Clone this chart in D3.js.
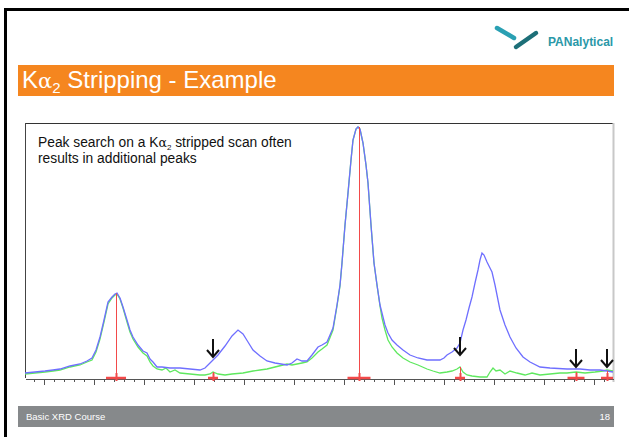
<!DOCTYPE html>
<html lang="en">
<head>
  <meta charset="UTF-8">
  <script type="text/javascript" src="https://cdn.jsdelivr.net/npm/d3@7/dist/d3.min.js"></script>
  <title>Ka2 Stripping - Example</title>
  <style>
    body { margin: 0; background: #fff; }
    svg { display: block; background-color: #fff; font-family: "Liberation Sans", Arial, sans-serif; }
    .axis path, .axis line { fill: none; stroke: #555; shape-rendering: crispEdges; }
    .scan { fill: none; stroke: #6f6fff; stroke-width: 1.3; }
    .stripped { fill: none; stroke: #5fe85f; stroke-width: 1.3; }
    .peak { stroke: #f24a4a; }
    .arrow { fill: none; stroke: #111; stroke-width: 2; }
  </style>
</head>
<body>
<div id="chart"></div>

<script>
  // original scan (with K-alpha2), blue
  var scanTheta = [19.62, 19.82, 20.02, 20.18, 20.32, 20.52, 20.72, 20.86, 20.96, 21.04, 21.12, 21.20, 21.28, 21.36, 21.42, 21.46,
    21.52, 21.58, 21.66, 21.72, 21.78, 21.88, 21.98, 22.06, 22.12, 22.18, 22.26, 22.36, 22.52, 22.72, 22.92, 23.12,
    23.22, 23.32, 23.38, 23.48, 23.62, 23.76, 23.88, 23.98, 24.08, 24.18, 24.32, 24.46, 24.62, 24.86, 24.96, 25.06,
    25.16, 25.26, 25.36, 25.48, 25.56, 25.66, 25.78, 25.86, 25.92, 25.96, 26.02, 26.08, 26.14, 26.18, 26.24, 26.28,
    26.32, 26.38, 26.44, 26.48, 26.54, 26.60, 26.66, 26.72, 26.76, 26.82, 26.88, 26.96, 27.06, 27.18, 27.32, 27.48,
    27.66, 27.78, 27.92, 28.00, 28.06, 28.16, 28.26, 28.32, 28.38, 28.44, 28.50, 28.56, 28.62, 28.68, 28.72, 28.76,
    28.80, 28.86, 28.92, 28.96, 29.02, 29.08, 29.12, 29.22, 29.32, 29.44, 29.58, 29.72, 29.92, 30.12, 30.46, 30.72,
    30.92, 31.12, 31.26, 31.38];
  var scanCounts = [50, 60, 70, 80, 90, 120, 140, 170, 200, 280, 410, 580, 760, 810, 840, 850,
    800, 710, 580, 480, 410, 330, 270, 250, 190, 160, 110, 110, 100, 100, 90, 80,
    100, 150, 180, 230, 320, 420, 480, 440, 360, 280, 220, 170, 150, 130, 150, 190,
    170, 170, 230, 310, 330, 360, 500, 730, 930, 1150, 1530, 1850, 2180, 2380, 2490, 2510,
    2490, 2350, 2130, 1950, 1530, 1150, 930, 730, 650, 530, 450, 380, 330, 280, 230, 200,
    180, 180, 180, 200, 230, 260, 300, 350, 480, 580, 700, 810, 950, 1080, 1180, 1250,
    1230, 1160, 1100, 1060, 930, 780, 680, 530, 410, 300, 210, 160, 110, 100, 90, 90,
    80, 80, 70, 60];

  // K-alpha2 stripped scan, green
  var strippedTheta = [19.62, 19.82, 20.02, 20.18, 20.32, 20.52, 20.72, 20.86, 20.96, 21.04, 21.12, 21.20, 21.28, 21.36, 21.42, 21.46,
    21.52, 21.58, 21.66, 21.72, 21.78, 21.88, 21.98, 22.06, 22.12, 22.18, 22.26, 22.36, 22.44, 22.52, 22.62, 22.72,
    22.92, 23.12, 23.22, 23.32, 23.38, 23.48, 23.62, 23.76, 23.98, 24.18, 24.32, 24.46, 24.62, 24.86, 24.96, 25.16,
    25.26, 25.36, 25.48, 25.56, 25.66, 25.78, 25.86, 25.92, 25.96, 26.02, 26.08, 26.14, 26.18, 26.24, 26.28, 26.32,
    26.38, 26.44, 26.48, 26.54, 26.60, 26.66, 26.72, 26.76, 26.82, 26.88, 26.96, 27.06, 27.18, 27.32, 27.48, 27.66,
    27.78, 27.92, 28.06, 28.16, 28.26, 28.32, 28.38, 28.46, 28.56, 28.72, 28.86, 28.92, 28.98, 29.04, 29.12, 29.22,
    29.32, 29.46, 29.62, 29.76, 29.92, 30.12, 30.32, 30.46, 30.64, 30.82, 31.02, 31.18, 31.26, 31.38];
  var strippedCounts = [40, 50, 60, 70, 80, 110, 130, 160, 180, 260, 390, 560, 740, 800, 830, 840,
    790, 700, 560, 460, 390, 310, 250, 220, 160, 120, 90, 80, 100, 60, 80, 50,
    40, 30, 30, 40, 60, 40, 30, 40, 50, 70, 80, 90, 110, 140, 130, 150,
    160, 200, 260, 290, 330, 480, 720, 920, 1150, 1530, 1850, 2180, 2380, 2490, 2510, 2490,
    2350, 2130, 1950, 1530, 1150, 930, 720, 600, 480, 380, 310, 250, 200, 160, 130, 90,
    70, 50, 60, 70, 90, 110, 60, 30, 20, 10, 10, 60, 100, 70, 80, 40,
    70, 50, 30, 50, 30, 40, 50, 50, 60, 50, 60, 70, 80, 70];

  // peaks found by the search: position, intensity, half width
  var peakTheta = [21.44, 23.38, 26.30, 28.32, 30.64, 31.26];
  var peakCounts = [845, 60, 2510, 110, 60, 70];
  var peakHalfWidth = [0.20, 0.10, 0.23, 0.10, 0.17, 0.12];

  // additional peaks pointed at with arrows: position, arrow tip intensity
  var extraTheta = [23.38, 28.32, 30.64, 31.26];
  var extraTip = [210, 230, 110, 110];

  var W = 629, H = 437;
  var plot = {left: 25, right: 613, top: 123, bottom: 378};

  var svg = d3.select("#chart")
    .append("svg")
    .attr("width", W)
    .attr("height", H);

  // slide frame
  svg.append("rect")
    .attr("x", 5.5).attr("y", 9.5)
    .attr("width", W + 10).attr("height", H + 10)
    .attr("fill", "#fff")
    .attr("stroke", "#000")
    .attr("stroke-width", 3);

  // logo
  svg.append("line")
    .attr("x1", 497).attr("y1", 28).attr("x2", 514).attr("y2", 38)
    .attr("stroke", "#2aa0b3").attr("stroke-width", 4.5).attr("stroke-linecap", "round");
  svg.append("line")
    .attr("x1", 516).attr("y1", 47).attr("x2", 536).attr("y2", 33)
    .attr("stroke", "#1d6f78").attr("stroke-width", 4.5).attr("stroke-linecap", "round");
  svg.append("text")
    .attr("x", 548).attr("y", 46)
    .attr("font-size", 12)
    .attr("font-weight", "bold")
    .attr("fill", "#2a98a8")
    .text("PANalytical");

  // title bar
  svg.append("rect")
    .attr("x", 18).attr("y", 65)
    .attr("width", 596).attr("height", 31)
    .attr("fill", "#f5861f");
  var title = svg.append("text")
    .attr("x", 22).attr("y", 88)
    .attr("font-size", 24)
    .attr("fill", "#fff");
  title.append("tspan").text("K");
  title.append("tspan").attr("font-family", "DejaVu Serif").attr("font-size", 21).text("α");
  title.append("tspan").attr("font-size", 15).attr("dy", 5).text("2");
  title.append("tspan").attr("dy", -5).text(" Stripping - Example");

  // footer bar
  svg.append("rect")
    .attr("x", 18).attr("y", 406)
    .attr("width", 596).attr("height", 21)
    .attr("fill", "#86898b");
  svg.append("text")
    .attr("x", 26).attr("y", 420)
    .attr("font-size", 9.5)
    .attr("fill", "#fff")
    .text("Basic XRD Course");
  svg.append("text")
    .attr("x", 610).attr("y", 420)
    .attr("font-size", 9.5)
    .attr("fill", "#fff")
    .style("text-anchor", "end")
    .text("18");

  // scales
  var xScale = d3.scaleLinear()
    .domain([19.62, 31.38])
    .range([plot.left, plot.right]);

  var yScale = d3.scaleLinear()
    .domain([0, 2550])
    .range([plot.bottom, plot.top]);

  // plot frame
  svg.append("line")
    .attr("x1", plot.left).attr("y1", plot.top + 0.5).attr("x2", plot.right).attr("y2", plot.top + 0.5)
    .attr("stroke", "#333").attr("stroke-width", 1.2);
  svg.append("line")
    .attr("x1", plot.left + 0.5).attr("y1", plot.top).attr("x2", plot.left + 0.5).attr("y2", plot.bottom)
    .attr("stroke", "#444");
  svg.append("line")
    .attr("x1", plot.right + 0.5).attr("y1", plot.top).attr("x2", plot.right + 0.5).attr("y2", plot.bottom + 4)
    .attr("stroke", "#c8c8c8").attr("stroke-width", 2);

  // x axis, minor and major ticks, no labels
  var minorTicks = d3.range(19.8, 31.38, 0.2);
  var majorTicks = d3.range(20, 32, 1);
  svg.append("g")
    .attr("class", "axis")
    .attr("transform", "translate(0," + (plot.bottom + 0.5) + ")")
    .call(d3.axisBottom(xScale).tickValues(minorTicks).tickSize(3).tickSizeOuter(0).tickFormat(""));
  svg.append("g")
    .attr("class", "axis")
    .attr("transform", "translate(0," + (plot.bottom + 0.5) + ")")
    .call(d3.axisBottom(xScale).tickValues(majorTicks).tickSize(6).tickSizeOuter(0).tickFormat(""))
    .select(".domain").remove();

  // annotation
  var note = svg.append("text")
    .attr("x", 38).attr("y", 147)
    .attr("font-size", 13.8)
    .attr("fill", "#111");
  note.append("tspan").text("Peak search on a K");
  note.append("tspan").attr("font-family", "DejaVu Serif").attr("font-size", 12.5).text("α");
  note.append("tspan").attr("font-size", 8).attr("dy", 3).text("2");
  note.append("tspan").attr("dy", -3).text(" stripped scan often");
  svg.append("text")
    .attr("x", 38).attr("y", 163)
    .attr("font-size", 13.8)
    .attr("fill", "#111")
    .text("results in additional peaks");

  var line = d3.line()
    .x(function (d) { return xScale(d[0]); })
    .y(function (d) { return yScale(d[1]); });

  svg.append("path")
    .datum(d3.zip(strippedTheta, strippedCounts))
    .attr("class", "stripped")
    .attr("d", line);

  svg.append("path")
    .datum(d3.zip(scanTheta, scanCounts))
    .attr("class", "scan")
    .attr("d", line);

  // peak markers
  var peaks = d3.zip(peakTheta, peakCounts, peakHalfWidth);
  var pk = svg.selectAll(".peak")
    .data(peaks)
    .enter()
    .append("g")
    .attr("class", "peak");

  pk.append("line")
    .attr("x1", function (d) { return Math.round(xScale(d[0])) + 0.5; })
    .attr("x2", function (d) { return Math.round(xScale(d[0])) + 0.5; })
    .attr("y1", function (d) { return yScale(d[1]); })
    .attr("y2", plot.bottom)
    .attr("stroke-width", 1);

  pk.append("line")
    .attr("x1", function (d) { return xScale(d[0] - d[2]); })
    .attr("x2", function (d) { return xScale(d[0] + d[2]); })
    .attr("y1", plot.bottom)
    .attr("y2", plot.bottom)
    .attr("stroke-width", 2.5);

  pk.append("line")
    .attr("x1", function (d) { return Math.round(xScale(d[0])) + 0.5; })
    .attr("x2", function (d) { return Math.round(xScale(d[0])) + 0.5; })
    .attr("y1", plot.bottom - 5)
    .attr("y2", plot.bottom + 3)
    .attr("stroke-width", 2);

  // arrows for additional peaks
  svg.selectAll(".arrow")
    .data(d3.zip(extraTheta, extraTip))
    .enter()
    .append("path")
    .attr("class", "arrow")
    .attr("d", function (d) {
      var x = xScale(d[0]), y = yScale(d[1]);
      return "M" + x + "," + (y - 18) + "V" + y +
        "M" + (x - 6) + "," + (y - 7) + "L" + x + "," + y + "L" + (x + 6) + "," + (y - 7);
    });
</script>

</body>
</html>
